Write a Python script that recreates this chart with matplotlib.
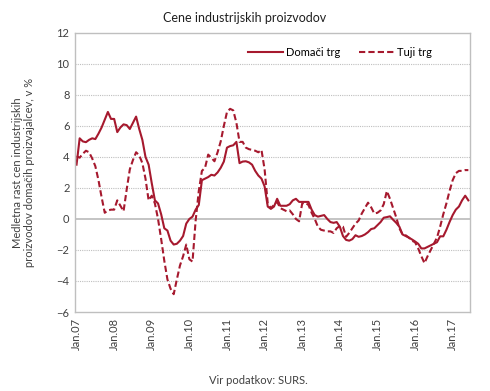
import matplotlib
matplotlib.use("Agg")
from matplotlib import pyplot as plt
import numpy as np

# podatki (medletna rast, v %), mesecno od jan. 2007 do jun. 2017
domaci_trg = [
    3.5, 5.2, 5.0, 4.95, 5.1, 5.2, 5.15, 5.5, 5.9, 6.4, 6.9, 6.45,
    6.45, 5.6, 5.9, 6.1, 6.05, 5.8, 6.2, 6.6, 5.8, 5.1, 4.0, 3.5,
    2.3, 1.2, 1.0, 0.3, -0.6, -0.75, -1.4, -1.65, -1.6, -1.4, -1.1, -0.3,
    0.0, 0.15, 0.6, 0.9, 2.5, 2.6, 2.7, 2.85, 2.8, 3.0, 3.3, 3.7,
    4.6, 4.7, 4.75, 4.97, 3.6, 3.7, 3.72, 3.65, 3.5, 3.1, 2.8, 2.6,
    2.1, 0.8, 0.65, 0.8, 1.3, 0.85, 0.85, 0.85, 0.95, 1.2, 1.3, 1.1,
    1.1, 1.1, 1.1, 0.6, 0.25, 0.15, 0.2, 0.25, 0.0, -0.2, -0.25, -0.2,
    -0.5, -1.1, -1.35, -1.4, -1.3, -1.05, -1.15, -1.1, -1.0, -0.85, -0.65, -0.6,
    -0.4, -0.2, 0.08, 0.12, 0.17, -0.05, -0.25, -0.5, -1.0, -1.1, -1.2, -1.32,
    -1.45, -1.6, -1.9, -1.9, -1.8, -1.7, -1.6, -1.5, -1.12, -1.12, -0.7, -0.2,
    0.25, 0.6, 0.8, 1.2, 1.5, 1.2,
]
tuji_trg = [
    4.05, 3.95, 4.2, 4.4, 4.3, 3.9, 3.4, 2.5, 1.4, 0.4, 0.55, 0.6,
    0.6, 1.2, 0.85, 0.5, 1.9, 3.2, 3.8, 4.3, 4.1, 3.6, 2.6, 1.2,
    1.5, 1.0, 0.0, -1.3, -2.7, -3.9, -4.5, -4.85, -3.9, -3.0, -2.4, -1.65,
    -2.6, -2.75, -0.1, 1.8, 3.1, 3.3, 4.15, 3.95, 3.72, 4.3, 5.0, 6.0,
    6.9, 7.1, 7.0, 6.2, 4.97, 4.97, 4.6, 4.5, 4.45, 4.4, 4.3, 4.45,
    3.2, 1.0, 0.7, 0.9, 1.1, 0.7, 0.6, 0.5, 0.55, 0.3, 0.0, -0.15,
    1.0, 1.05, 0.9, 0.4, 0.0, -0.5, -0.7, -0.75, -0.8, -0.8, -0.9, -0.6,
    -0.45, -0.5, -1.15, -0.9, -0.6, -0.3, -0.1, 0.35, 0.7, 1.05, 0.75, 0.35,
    0.4, 0.55, 0.95, 1.8, 1.3, 0.7, 0.1, -0.6, -1.0, -1.05, -1.2, -1.4,
    -1.5, -1.9, -2.4, -2.85, -2.4, -2.0, -1.6, -1.2, -0.5, 0.3, 1.0, 1.8,
    2.5, 2.95, 3.1, 3.1, 3.15, 3.15,
]
oznake_let = ["Jan.07", "Jan.08", "Jan.09", "Jan.10", "Jan.11", "Jan.12",
              "Jan.13", "Jan.14", "Jan.15", "Jan.16", "Jan.17"]
y_ticks = [12, 10, 8, 6, 4, 2, 0, -2, -4, -6]

barva = "#A6192E"
siva = "#BFBFBF"
plt.rcParams["font.family"] = ["Lato", "DejaVu Sans"]

fig = plt.figure(figsize=(4.9, 3.91), dpi=100)
ax = fig.add_axes([0.153, 0.202, 0.806, 0.714])

x = np.arange(len(domaci_trg))
ax.plot(x, domaci_trg, color=barva, lw=1.5, label="Domači trg")
ax.plot(x, tuji_trg, color=barva, lw=1.5, linestyle=(0, (3, 1.5)), label="Tuji trg")

ax.set_xlim(-0.5, len(domaci_trg) - 0.5)
ax.set_ylim(-6, 12)
ax.set_yticks(y_ticks)
ax.set_xticks(np.arange(len(oznake_let)) * 12)
ax.set_xticklabels(oznake_let, rotation=90)
ax.tick_params(length=0, labelsize=8, colors="#404040", pad=4)

for v in y_ticks:
    if v not in (0, 12, -6):
        ax.axhline(v, color=siva, lw=0.8, linestyle=(0, (1, 1)), zorder=0)
ax.axhline(0, color=siva, lw=1.3, zorder=0)
for s in ax.spines.values():
    s.set_color(siva)
    s.set_linewidth(1.0)

ax.legend(loc="upper right", bbox_to_anchor=(0.93, 0.985), ncol=2, frameon=False,
          fontsize=8, handlelength=3.2, columnspacing=1.6, handletextpad=0.3)

ax.set_ylabel("Medletna rast cen industrijskih\nproizvodov domačih proizvajalcev, v %",
              fontsize=8, color="#404040")
ax.yaxis.set_label_coords(-0.1, 0.5)
fig.text(0.5, 0.953, "Cene industrijskih proizvodov", ha="center", va="center",
         fontsize=9, color="#202020")
fig.text(0.427, 0.026, "Vir podatkov: SURS.", ha="left", va="center",
         fontsize=8, color="#404040")

fig.savefig("out.png", dpi=100)
